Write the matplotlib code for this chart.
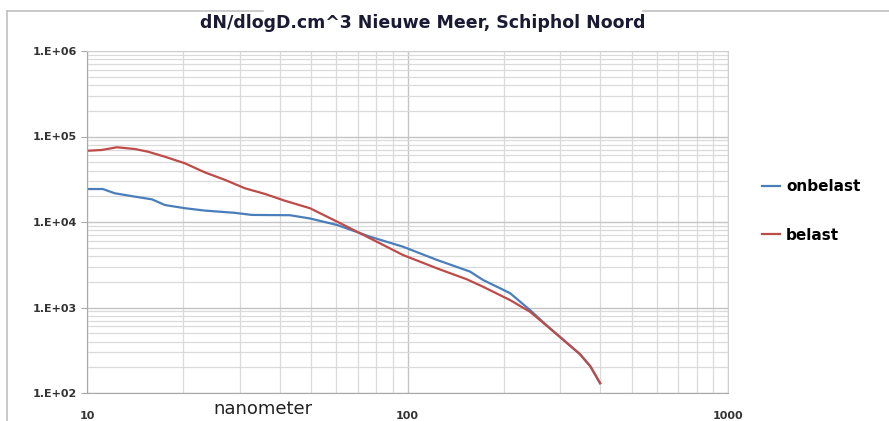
import matplotlib.pyplot as plt
import numpy as np
from matplotlib.ticker import FixedLocator, LogLocator, NullFormatter
from matplotlib.lines import Line2D

# diameter (nm) and dN/dlogD per cm^3
x_belast = [10.07, 11.1, 12.4, 14.1, 15.5, 17.5, 20.2, 23.3, 27.0, 31.1, 35.9,
            41.5, 49.6, 60.3, 76.4, 96.8, 123.6, 153, 172, 209, 241, 278,
            306, 345, 372, 399]
y_belast = [68200, 69500, 74800, 71400, 66400, 58000, 48600, 38100, 31000, 24800, 21300,
            17700, 14500, 10100, 6450, 4110, 2870, 2140, 1750, 1220, 893, 571,
            420, 285, 205, 130]

x_onbelast = [10.07, 11.2, 12.2, 14.1, 15.95, 17.5, 20.2, 23.3, 28.9, 32.7,
              43.0, 49.6, 60.3, 76.4, 96.8, 123.6, 156.7, 172, 209, 241, 278,
              306, 345, 372, 399]
y_onbelast = [24300, 24300, 21700, 19800, 18400, 15800, 14500, 13600, 12800, 12100,
              12000, 11000, 9230, 6730, 5140, 3600, 2630, 2100, 1470, 935, 571,
              420, 285, 205, 130]

y_ticks = [1e2, 1e3, 1e4, 1e5, 1e6]
y_labels = ['1.E+02', '1.E+03', '1.E+04', '1.E+05', '1.E+06']
x_ticks = [10, 100, 1000]
x_labels = ['10', '100', '1000']

blue = '#4a7ebb'
red = '#be4b48'

fig = plt.figure(figsize=(8.89, 4.21), dpi=100)
ax = fig.add_axes([87/889, 28/421, 641/889, 342/421])

ax.plot(x_onbelast, y_onbelast, color=blue, lw=1.6)
ax.plot(x_belast, y_belast, color=red, lw=1.6)

ax.set_xscale('log')
ax.set_yscale('log')
ax.set_xlim(10, 1000)
ax.set_ylim(1e2, 1e6)

ax.xaxis.set_major_locator(FixedLocator(x_ticks))
ax.set_xticklabels(x_labels)
ax.yaxis.set_major_locator(FixedLocator(y_ticks))
ax.set_yticklabels(y_labels)
ax.xaxis.set_minor_locator(LogLocator(base=10, subs=np.arange(2, 10)))
ax.yaxis.set_minor_locator(LogLocator(base=10, subs=np.arange(2, 10)))
ax.xaxis.set_minor_formatter(NullFormatter())
ax.yaxis.set_minor_formatter(NullFormatter())

ax.grid(True, which='major', color='#c4c4c4', lw=1.0)
ax.grid(True, which='minor', color='#dadada', lw=0.9)
ax.set_axisbelow(True)
for s in ax.spines.values():
    s.set_color('#d0d0d0')
ax.spines['left'].set_color('#a8a8a8')
ax.spines['bottom'].set_color('#a8a8a8')

ax.tick_params(which='both', length=0)
ax.tick_params(axis='y', which='major', length=4, color='#a8a8a8', pad=3)
ax.tick_params(axis='x', which='major', pad=13)
for lab in ax.get_xticklabels() + ax.get_yticklabels():
    lab.set_fontsize(8)
    lab.set_fontweight('bold')
    lab.set_color('#333333')

fig.text(0.475, 0.945, 'dN/dlogD.cm^3 Nieuwe Meer, Schiphol Noord',
         ha='center', va='center', fontsize=12.5, fontweight='bold', color='#1a1a33')
fig.text(263/889, 1 - 409/421, 'nanometer', ha='center', va='center',
         fontsize=13, color='#222222')

handles = [Line2D([], [], color=blue, lw=1.6), Line2D([], [], color=red, lw=1.6)]
fig.legend(handles, ['onbelast', 'belast'], loc='center left',
           bbox_to_anchor=(748/889, 1 - 211/421), frameon=False,
           handlelength=1.2, handletextpad=0.4, labelspacing=2.2,
           prop={'size': 11, 'weight': 'bold'})

# chart area frame (partly cut off)
fig.add_artist(Line2D([7/889, 7/889], [1 - 11/421, 0], color='#c0c0c0', lw=1.2))
fig.add_artist(Line2D([7/889, 263/889], [1 - 11/421, 1 - 11/421], color='#c0c0c0', lw=1.2))
fig.add_artist(Line2D([643/889, 1], [1 - 11/421, 1 - 11/421], color='#c0c0c0', lw=1.2))

plt.savefig('out.png', dpi=100)
